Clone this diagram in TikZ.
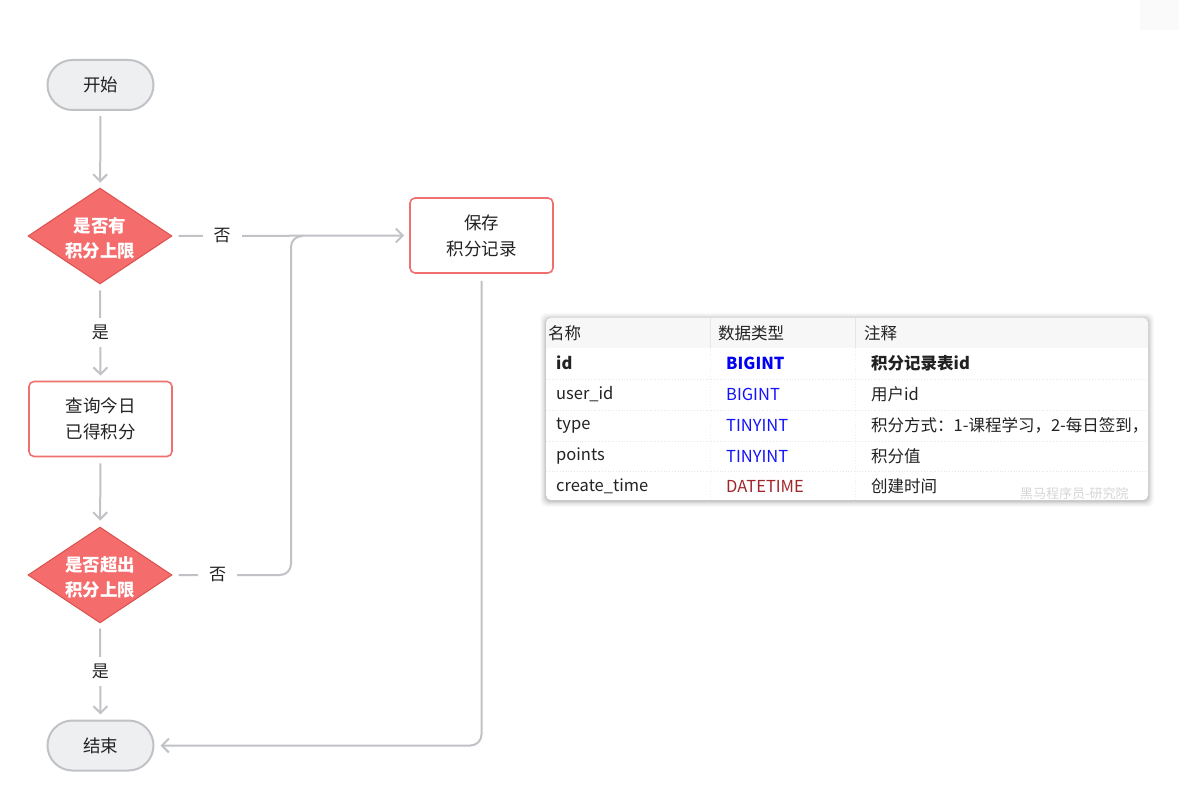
\documentclass[tikz,border=0pt]{standalone}
\usepackage{fontspec}
\setmainfont{Noto Sans CJK SC}
\usetikzlibrary{shapes.geometric,shapes.misc,arrows.meta}
\definecolor{lgray}{HTML}{C0C2C6}
\definecolor{termfill}{HTML}{EEEFF1}
\definecolor{dred}{HTML}{F56C6C}
\definecolor{dredb}{HTML}{D9534F}
\definecolor{boxred}{HTML}{F07070}
\definecolor{txt}{HTML}{222222}
\definecolor{hdr}{HTML}{F7F7F7}
\definecolor{sep}{HTML}{E6E6E6}
\definecolor{tblue}{HTML}{1414FA}
\definecolor{tdblue}{HTML}{0000F5}
\definecolor{tred}{HTML}{A0262A}
\definecolor{wm}{HTML}{D6D6D6}
\tikzset{
  term/.style={rounded rectangle, draw=lgray, line width=2pt, fill=termfill, minimum width=106pt, minimum height=50pt, inner xsep=0pt, text width=60pt, align=center, font=\fontsize{17.5}{20}\selectfont, text=txt},
  decision/.style={diamond, draw=dredb, line width=1pt, fill=dred, minimum width=144pt, minimum height=96pt, inner sep=0pt},
  dtext/.style={align=center, inner sep=0pt, font=\fontsize{17.5}{25}\selectfont\bfseries, text=white},
  procbox/.style={rectangle, rounded corners=5pt, draw=boxred, line width=1.6pt, fill=white, minimum width=143pt, minimum height=75pt, align=center, font=\fontsize{17.5}{26}\selectfont, text=txt},
  conn/.style={draw=lgray, line width=2pt, -{Straight Barb[length=7pt,width=14pt,line width=2pt]}},
  plain/.style={draw=lgray, line width=2pt},
  lbl/.style={fill=white, inner xsep=11pt, inner ysep=2pt, font=\fontsize{17}{20}\selectfont, text=txt},
  cell/.style={anchor=west, font=\fontsize{16.5}{20}\selectfont, text=txt, inner sep=0pt},
}
\begin{document}
\begin{tikzpicture}[x=1pt,y=-1pt]
\useasboundingbox (0,0) rectangle (1179,799);
% faint corner shadow top right
\fill[black!2] (1140,0) rectangle (1179,30);
% flowchart nodes
\node[term] (start) at (100.5,85) {开始};
\node[decision] (d1) at (100,236) {};
\node[dtext] (d1t) at (100,238) {是否有\\积分上限};
\node[procbox] (save) at (481.5,235.5) {保存\\积分记录};
\node[procbox] (query) at (100.5,419) {查询今日\\已得积分};
\node[decision] (d2) at (100,575) {};
\node[dtext] (d2t) at (100,577) {是否超出\\积分上限};
\node[term] (end) at (100.5,745.5) {结束};
\coordinate (j) at (291,236);
% connectors
\draw[conn, shorten <=5pt, shorten >=5pt] (start) -- (d1);
\draw[conn, shorten <=6pt, shorten >=5pt] (d1.east) -- node[lbl, pos=0.21] {否} (save.west);
\draw[conn, shorten <=6pt, shorten >=5pt] (d1.south) -- node[lbl, inner xsep=4pt, inner ysep=7pt, pos=0.5] {是} (query.north);
\draw[conn, shorten <=6pt, shorten >=6pt] (query) -- (d2);
\draw[plain, rounded corners=11pt, shorten <=6pt] (d2.east) -- node[lbl, pos=0.38] {否} (d2.east -| j) -- (j) -- ++(12,0);
\draw[conn, shorten <=5pt, shorten >=5pt] (d2.south) -- node[lbl, inner xsep=4pt, inner ysep=7pt, pos=0.5] {是} (end.north);
\draw[conn, rounded corners=11pt, shorten <=7pt, shorten >=6pt] (save.south) |- (end.east);
% table with shadow
\foreach \i/\o in {6/0.02,5/0.025,4/0.03,3/0.04,2/0.05,1/0.06}{
  \fill[black, opacity=\o, rounded corners=6pt] (546-\i,318-\i+1) rectangle (1148+\i,500+\i+1);
}
\fill[white, rounded corners=5pt] (546,318) rectangle (1148,500);
\fill[hdr, rounded corners=5pt] (546,318) rectangle (1148,348);
\fill[hdr] (546,330) rectangle (1148,348);
\draw[sep, line width=1pt] (710,318) -- (710,348);
\draw[sep, line width=1pt] (855,318) -- (855,348);
\foreach \y in {379,410,441,471}{
  \draw[sep, line width=0.8pt, dotted] (546,\y) -- (1148,\y);
}
\foreach \x in {710,855}{
  \draw[sep!60, line width=0.8pt, dotted] (\x,348) -- (\x,500);
}
% header
\node[cell] (h1) at (548,333) {名称};
\node[cell] (h2) at (718,333) {数据类型};
\node[cell] (h3) at (864,333) {注释};
% rows
\node[cell, font=\fontsize{16.5}{20}\selectfont\bfseries] (r1a) at (556,363) {id};
\node[cell, font=\fontsize{16.5}{20}\selectfont\bfseries, text=tdblue] (r1b) at (726,363) {BIGINT};
\node[cell, font=\fontsize{16.5}{20}\selectfont\bfseries] (r1c) at (871,363) {积分记录表id};
\node[cell] (r2a) at (556,394.5) {user\_id};
\node[cell, text=tblue] (r2b) at (726,394.5) {BIGINT};
\node[cell] (r2c) at (871,394.5) {用户id};
\node[cell] (r3a) at (556,425.5) {type};
\node[cell, text=tblue] (r3b) at (726,425.5) {TINYINT};
\begin{scope}
\clip (860,410) rectangle (1147,441);
\node[cell] (r3c) at (871,425.5) {积分方式：1-课程学习，2-每日签到，};
\end{scope}
\node[cell] (r4a) at (556,456) {points};
\node[cell, text=tblue] (r4b) at (726,456) {TINYINT};
\node[cell] (r4c) at (871,456) {积分值};
\node[cell] (r5a) at (556,486.5) {create\_time};
\node[cell, text=tred] (r5b) at (726,486.5) {DATETIME};
\node[cell] (r5c) at (871,486.5) {创建时间};
\node[cell, text=wm, font=\fontsize{13}{16}\selectfont] (wmk) at (1020,494) {黑马程序员-研究院};
\end{tikzpicture}
\end{document}
